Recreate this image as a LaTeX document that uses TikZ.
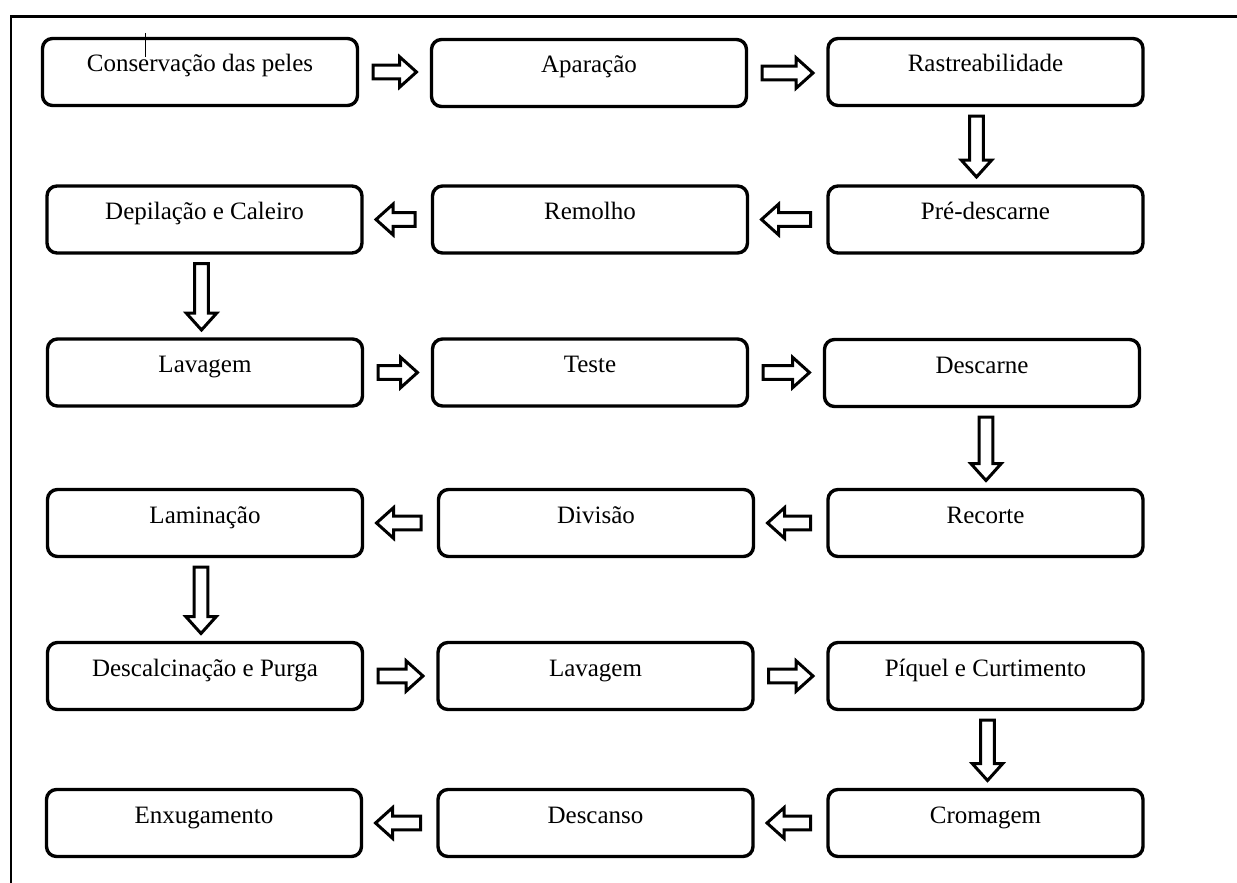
\documentclass[tikz,border=0pt]{standalone}
\usepackage{fontspec}
\setmainfont{Liberation Serif}
\usetikzlibrary{calc}

\tikzset{
  stepbox/.style={draw, line width=3.4pt, rounded corners=10pt,
    minimum width=315pt, minimum height=67pt, inner sep=0pt, outer sep=0pt,
    text height=33.5pt, text depth=33.5pt,
    font=\fontsize{25}{30}\selectfont},
  flowarrow/.style={draw, line width=3pt, fill=white, line join=miter},
  frameline/.style={line width=2.2pt},
}

% hollow block arrow from coordinate #1 (tail) to coordinate #2 (tip)
\newcommand\blockarrow[2]{%
  \coordinate (hb) at ($(#2)!17pt!(#1)$);
  \draw[flowarrow] ($(#1)!6.8pt!90:(#2)$) -- ($(hb)!6.8pt!90:(#2)$)
    -- ($(hb)!15.3pt!90:(#2)$) -- (#2) -- ($(hb)!15.3pt!-90:(#2)$)
    -- ($(hb)!6.8pt!-90:(#2)$) -- ($(#1)!6.8pt!-90:(#2)$) -- cycle;
}
% step #1 -> step #2, to the right
\newcommand\goright[2]{%
  \coordinate (tl) at ($(#1.east)+(15.5,0)$);
  \coordinate (tp) at ($(tl -| #2.west)+(-15,0)$);
  \blockarrow{tl}{tp}}
% step #1 -> step #2, to the left
\newcommand\goleft[2]{%
  \coordinate (tl) at ($(#1.west)+(-17.5,0)$);
  \coordinate (tp) at ($(tl -| #2.east)+(14,0)$);
  \blockarrow{tl}{tp}}
% step #1 -> step #2, downwards, #3 = sideways offset
\newcommand\godown[3]{%
  \coordinate (tl) at ($(#1.south)+(#3,10.5)$);
  \coordinate (tp) at ($(tl |- #2.north)+(0,-9)$);
  \blockarrow{tl}{tp}}

\begin{document}
\begin{tikzpicture}[x=1pt, y=-1pt]
\useasboundingbox (0,0) rectangle (1237,883);

% page frame
\draw[frameline] (1240,16.5) -- (11.3,16.5) -- (11.3,886);

% row 1
\node[stepbox] (cons) at (200,72)    {Conservação das peles};
\node[stepbox] (apar) at (589,73)    {Aparação};
\node[stepbox] (rast) at (985.5,72)  {Rastreabilidade};
% row 2
\node[stepbox] (pre)  at (985.5,219.5) {Pré-descarne};
\node[stepbox] (rem)  at (590,219.5)   {Remolho};
\node[stepbox] (dep)  at (204.5,219.5) {Depilação e Caleiro};
% row 3
\node[stepbox] (lava) at (205,372.5)   {Lavagem};
\node[stepbox] (test) at (590,372.5)   {Teste};
\node[stepbox] (desc) at (982,373)     {Descarne};
% row 4
\node[stepbox] (rec)  at (985.5,523) {Recorte};
\node[stepbox] (div)  at (596,523)   {Divisão};
\node[stepbox] (lam)  at (205,523)   {Laminação};
% row 5
\node[stepbox] (dpur) at (205,676)   {Descalcinação e Purga};
\node[stepbox] (lavb) at (595.5,676) {Lavagem};
\node[stepbox] (piq)  at (985.5,676) {Píquel e Curtimento};
% row 6
\node[stepbox] (crom) at (985.5,823) {Cromagem};
\node[stepbox] (dcs)  at (595.5,823) {Descanso};
\node[stepbox] (enx)  at (204,823)   {Enxugamento};

% text cursor mark
\draw[line width=1pt] (145.5,33) -- (145.5,57);

% flow
\goright{cons}{apar}
\goright{apar}{rast}
\godown{rast}{pre}{-9}
\goleft{pre}{rem}
\goleft{rem}{dep}
\godown{dep}{lava}{-3}
\goright{lava}{test}
\goright{test}{desc}
\godown{desc}{rec}{4}
\goleft{rec}{div}
\goleft{div}{lam}
\godown{lam}{dpur}{-4}
\goright{dpur}{lavb}
\goright{lavb}{piq}
\godown{piq}{crom}{2}
\goleft{crom}{dcs}
\goleft{dcs}{enx}
\end{tikzpicture}
\end{document}
